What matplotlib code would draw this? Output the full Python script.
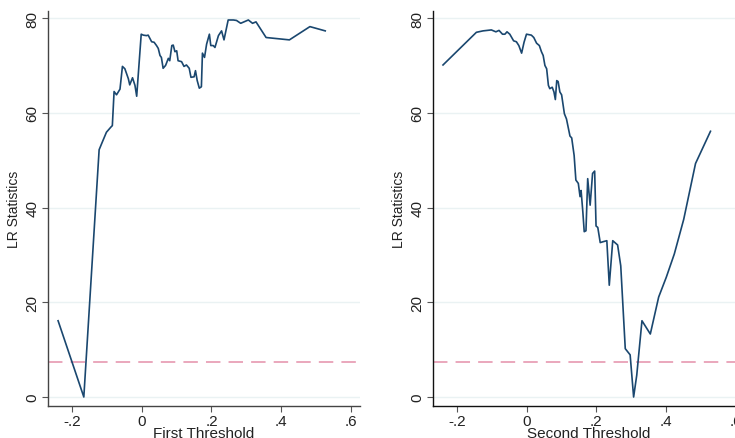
import matplotlib
matplotlib.use("Agg")
import matplotlib.pyplot as plt

# LR statistics over the first threshold
x_first = [-0.241, -0.167, -0.123, -0.114, -0.102, -0.089, -0.085, -0.080, -0.073, -0.063,
           -0.056, -0.049, -0.039, -0.035, -0.027, -0.020, -0.015, -0.002, 0.004, 0.013,
           0.018, 0.028, 0.035, 0.042, 0.047, 0.052, 0.056, 0.061, 0.068, 0.076,
           0.080, 0.086, 0.090, 0.095, 0.100, 0.104, 0.114, 0.121, 0.128, 0.136,
           0.141, 0.150, 0.154, 0.159, 0.165, 0.171, 0.174, 0.180, 0.186, 0.194,
           0.198, 0.205, 0.210, 0.220, 0.229, 0.236, 0.248, 0.263, 0.272, 0.284,
           0.306, 0.318, 0.328, 0.357, 0.424, 0.483, 0.527]
lr_first = [16.1, 0.0, 52.2, 53.8, 55.9, 57.0, 57.3, 64.5, 63.8, 65.0,
            69.8, 69.3, 67.2, 65.9, 67.4, 65.8, 63.5, 76.6, 76.4, 76.3,
            76.4, 75.0, 74.9, 74.2, 73.6, 72.1, 71.7, 69.4, 70.0, 71.5,
            71.0, 74.2, 74.3, 72.9, 73.1, 71.0, 70.8, 69.8, 70.1, 69.4,
            67.5, 67.6, 68.9, 66.8, 65.2, 65.5, 72.6, 71.7, 74.5, 76.6,
            74.2, 74.2, 73.8, 76.3, 77.3, 75.4, 79.6, 79.6, 79.5, 78.9,
            79.6, 78.9, 79.2, 75.9, 75.4, 78.2, 77.3]

# LR statistics over the second threshold
x_second = [-0.241, -0.145, -0.126, -0.102, -0.089, -0.080, -0.070, -0.063, -0.057, -0.049,
            -0.038, -0.030, -0.023, -0.015, -0.008, -0.001, 0.013, 0.020, 0.028, 0.036,
            0.042, 0.047, 0.052, 0.057, 0.062, 0.066, 0.073, 0.078, 0.082, 0.086,
            0.090, 0.095, 0.100, 0.108, 0.114, 0.124, 0.129, 0.136, 0.141, 0.148,
            0.153, 0.156, 0.161, 0.165, 0.170, 0.175, 0.182, 0.189, 0.195, 0.199,
            0.204, 0.211, 0.220, 0.230, 0.237, 0.247, 0.261, 0.270, 0.283, 0.297,
            0.307, 0.316, 0.331, 0.355, 0.379, 0.401, 0.424, 0.451, 0.485, 0.528]
lr_second = [70.1, 77.0, 77.3, 77.5, 77.1, 77.4, 76.6, 76.6, 77.1, 76.6,
             75.2, 75.0, 74.2, 72.6, 74.9, 76.6, 76.4, 75.9, 74.7, 74.2,
             72.9, 72.1, 70.0, 69.3, 65.8, 65.1, 65.4, 64.4, 62.8, 66.8,
             66.6, 64.4, 63.8, 59.8, 58.7, 55.1, 54.7, 51.0, 45.8, 45.1,
             42.3, 43.6, 39.1, 34.9, 35.1, 46.1, 40.5, 47.2, 47.7, 36.1,
             35.8, 32.6, 32.8, 33.0, 23.6, 33.0, 32.1, 27.7, 10.2, 8.9,
             0.0, 4.6, 16.1, 13.3, 21.1, 25.3, 30.2, 37.5, 49.3, 56.1]

crit_value = 7.35
xticks = [-0.2, 0, 0.2, 0.4, 0.6]
xtick_labels = ["-.2", "0", ".2", ".4", ".6"]
yticks = [0, 20, 40, 60, 80]

plt.rcParams['font.family'] = ['Liberation Sans', 'DejaVu Sans']

fig = plt.figure(figsize=(7.35, 4.39), dpi=100)
fig.patch.set_facecolor('white')

panels = [
    ([0.0653, 0.0729, 0.4245, 0.8998], x_first, lr_first, "First Threshold", '#444444'),
    ([0.589, 0.0729, 0.4245, 0.8998], x_second, lr_second, "Second Threshold", '#111111'),
]

for rect, xs, ys, xlab, spcol in panels:
    ax = fig.add_axes(rect)
    ax.plot(xs, ys, color='#1a476f', lw=1.2, zorder=3)
    ax.axhline(crit_value, color='#e8a0b6', lw=1.3, dashes=(8, 4.5), zorder=2)
    ax.set_xlim(-0.27, 0.627)
    ax.set_ylim(-1.9, 81.5)
    ax.set_xticks(xticks)
    ax.set_xticklabels(xtick_labels)
    ax.set_yticks(yticks)
    ax.set_yticklabels([str(v) for v in yticks], rotation=90, va='center')
    ax.grid(axis='y', color='#eaf2f3', lw=1.0, zorder=0)
    for s in ['top', 'right']:
        ax.spines[s].set_visible(False)
    for s in ['left', 'bottom']:
        ax.spines[s].set_color(spcol)
        ax.spines[s].set_linewidth(1.0)
    ax.tick_params(axis='both', direction='out', length=4, width=0.8,
                   colors='#555555', labelcolor='#222222', labelsize=11, pad=2)
    ax.set_xlabel(xlab, fontsize=11, color='#222222', labelpad=-1.5)
    ax.set_ylabel("LR Statistics", fontsize=10, color='#222222', labelpad=3)

fig.savefig("out.png", dpi=100, facecolor='white')
